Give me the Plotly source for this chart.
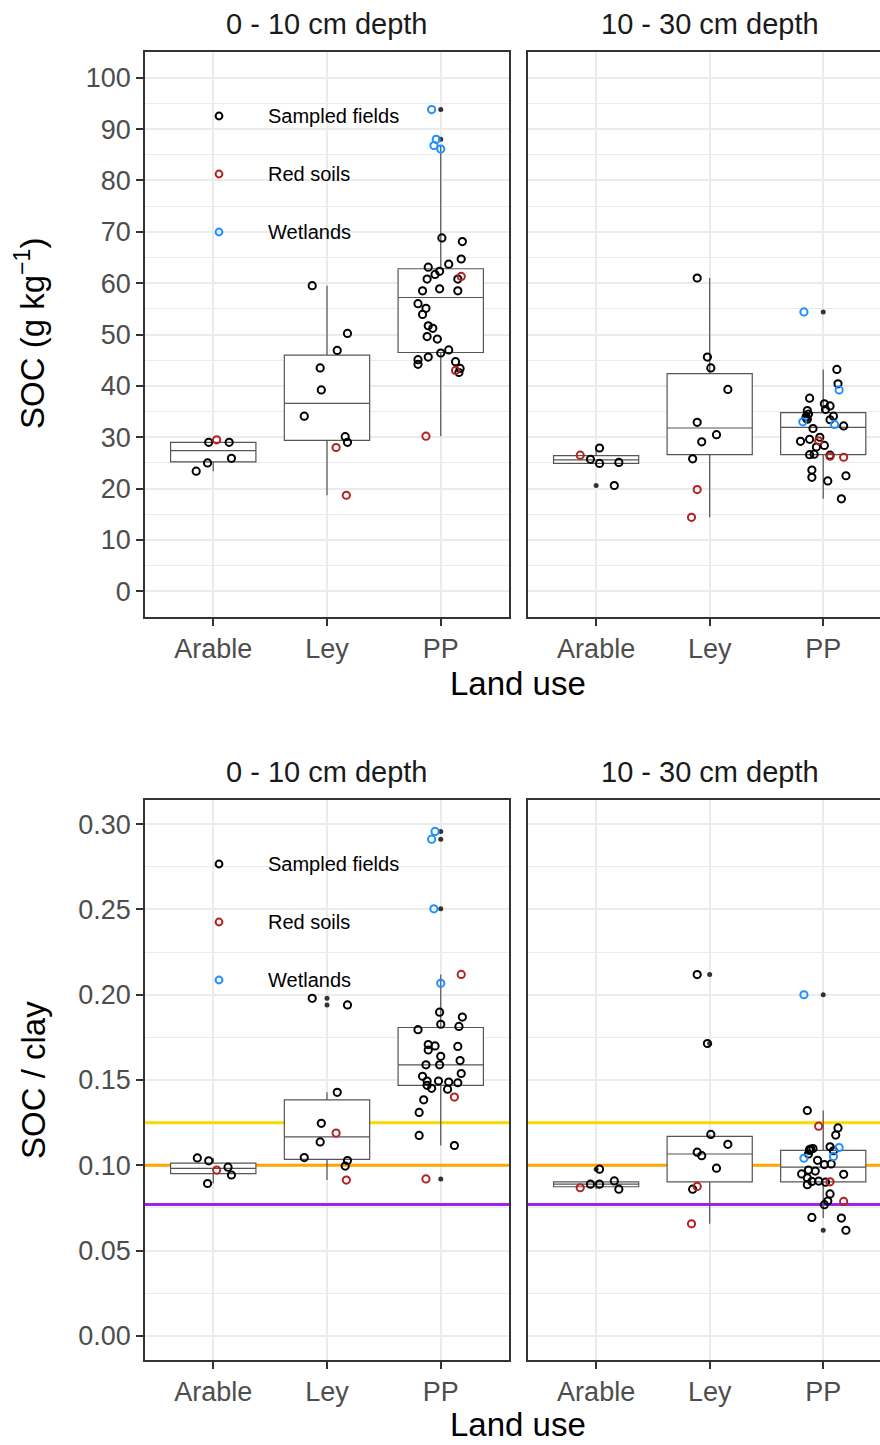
import plotly.graph_objects as go

W, H = 880, 1445
categories = ["Arable", "Ley", "PP"]
depth_titles = ["0 - 10 cm depth", "10 - 30 cm depth"]
legend_labels = ["Sampled fields", "Red soils", "Wetlands"]
src_colors = {"S": "#000000", "R": "#B22222", "W": "#1E90FF"}
ref_levels = [0.125, 0.10, 0.077]
ref_colors = ["#FFD700", "#FFA500", "#A020F0"]

# ---------------- SOC 0-10 cm ----------------
soc010_arable_val = [29.0, 29.5, 29.0, 25.9, 25.0, 23.4]
soc010_arable_dx = [-0.04, 0.03, 0.14, 0.16, -0.05, -0.15]
soc010_arable_src = ["S", "R", "S", "S", "S", "S"]
soc010_ley_val = [59.5, 50.2, 46.9, 43.5, 39.2, 34.1, 30.1, 29.0, 28.0, 18.7]
soc010_ley_dx = [-0.13, 0.18, 0.09, -0.06, -0.05, -0.20, 0.16, 0.18, 0.08, 0.17]
soc010_ley_src = ["S", "S", "S", "S", "S", "S", "S", "S", "R", "R"]
soc010_pp_val = [93.8, 88.0, 86.8, 86.1, 61.3, 43.0, 30.2,
                 68.8, 68.1, 64.7, 63.7, 63.1, 62.3, 61.7, 60.8, 60.8, 58.9, 58.5, 58.5, 56.0, 55.1,
                 53.9, 51.7, 51.2, 49.6, 49.1, 47.0, 46.4, 45.6, 45.1, 44.7, 44.2, 43.4, 42.6]
soc010_pp_dx = [-0.08, -0.04, -0.06, 0.00, 0.18, 0.13, -0.13,
                0.01, 0.19, 0.18, 0.07, -0.11, -0.01, -0.05, -0.12, 0.15, -0.01, -0.16, 0.15, -0.20, -0.13,
                -0.16, -0.11, -0.07, -0.12, -0.03, 0.07, 0.00, -0.11, -0.20, 0.13, -0.20, 0.17, 0.16]
soc010_pp_src = ["W", "W", "W", "W", "R", "R", "R"] + ["S"] * 27
soc010_q1 = [25.2, 29.4, 46.5]
soc010_median = [27.4, 36.6, 57.2]
soc010_q3 = [29.0, 46.0, 62.8]
soc010_lower = [23.4, 18.7, 30.2]
soc010_upper = [29.5, 59.5, 86.8]
soc010_out_cat = ["PP", "PP"]
soc010_out_val = [93.8, 88.0]

# ---------------- SOC 10-30 cm ----------------
soc1030_arable_val = [26.5, 27.9, 25.7, 24.9, 25.1, 20.6]
soc1030_arable_dx = [-0.14, 0.03, -0.05, 0.03, 0.20, 0.16]
soc1030_arable_src = ["R", "S", "S", "S", "S", "S"]
soc1030_ley_val = [61.0, 45.6, 43.5, 39.3, 32.9, 30.5, 29.1, 25.8, 19.8, 14.4]
soc1030_ley_dx = [-0.11, -0.02, 0.01, 0.16, -0.11, 0.06, -0.07, -0.15, -0.11, -0.16]
soc1030_ley_src = ["S", "S", "S", "S", "S", "S", "S", "S", "R", "R"]
soc1030_pp_val = [54.4, 39.2, 33.0, 32.5, 29.3, 26.3, 26.1,
                  43.2, 40.4, 37.6, 36.5, 36.1, 35.4, 35.2, 34.5, 34.1, 34.0, 33.8, 33.5, 33.4, 32.2,
                  31.7, 30.0, 29.6, 29.2, 28.4, 28.1, 26.7, 26.6, 26.5, 23.6, 22.5, 22.2, 21.5, 18.0]
soc1030_pp_dx = [-0.17, 0.14, -0.18, 0.10, -0.04, 0.06, 0.18,
                 0.12, 0.13, -0.12, 0.01, 0.06, 0.02, -0.14, -0.13, 0.09, -0.15, -0.15, -0.14, 0.06, 0.18,
                 -0.09, -0.03, -0.12, -0.20, 0.01, -0.06, -0.08, -0.12, 0.06, -0.10, 0.20, -0.10, 0.04, 0.16]
soc1030_pp_src = ["W", "W", "W", "W", "R", "R", "R"] + ["S"] * 28
soc1030_q1 = [24.9, 26.6, 26.6]
soc1030_median = [25.6, 31.8, 31.9]
soc1030_q3 = [26.4, 42.4, 34.8]
soc1030_lower = [24.9, 14.4, 18.0]
soc1030_upper = [27.9, 61.0, 43.2]
soc1030_out_cat = ["Arable", "PP"]
soc1030_out_val = [20.6, 54.4]

# ---------------- SOC/clay 0-10 cm ----------------
ratio010_arable_val = [0.1043, 0.1026, 0.0972, 0.0989, 0.0943, 0.0893]
ratio010_arable_dx = [-0.14, -0.04, 0.03, 0.13, 0.16, -0.05]
ratio010_arable_src = ["S", "S", "R", "S", "S", "S"]
ratio010_ley_val = [0.1979, 0.1940, 0.1428, 0.1246, 0.1189, 0.1137, 0.1045, 0.1028, 0.0995, 0.0913]
ratio010_ley_dx = [-0.13, 0.18, 0.09, -0.05, 0.08, -0.06, -0.20, 0.18, 0.16, 0.17]
ratio010_ley_src = ["S", "S", "S", "S", "R", "S", "S", "S", "S", "R"]
ratio010_pp_val = [0.2958, 0.2912, 0.2504, 0.2067, 0.2119, 0.1400, 0.0920,
                   0.1898, 0.1869, 0.1827, 0.1814, 0.1795, 0.1708, 0.1700, 0.1697, 0.1676, 0.1639,
                   0.1614, 0.1589, 0.1589, 0.1538, 0.1522, 0.1494, 0.1494, 0.1488, 0.1484, 0.1469,
                   0.1451, 0.1446, 0.1384, 0.1310, 0.1175, 0.1116]
ratio010_pp_dx = [-0.05, -0.08, -0.06, 0.00, 0.18, 0.12, -0.13,
                  -0.01, 0.19, 0.00, 0.16, -0.20, -0.11, -0.05, 0.15, -0.11, 0.00,
                  0.17, -0.13, -0.01, 0.18, -0.16, -0.12, -0.02, 0.07, 0.15, -0.12,
                  -0.08, 0.06, -0.15, -0.19, -0.19, 0.12]
ratio010_pp_src = ["W", "W", "W", "W", "R", "R", "R"] + ["S"] * 26
ratio010_q1 = [0.0951, 0.1035, 0.1469]
ratio010_median = [0.0982, 0.1166, 0.1589]
ratio010_q3 = [0.1012, 0.1384, 0.1808]
ratio010_lower = [0.0893, 0.0913, 0.1116]
ratio010_upper = [0.1043, 0.1428, 0.2119]
ratio010_out_cat = ["Ley", "Ley", "PP", "PP", "PP", "PP"]
ratio010_out_val = [0.1979, 0.1940, 0.2958, 0.2912, 0.2504, 0.0920]

# ---------------- SOC/clay 10-30 cm ----------------
ratio1030_arable_val = [0.0977, 0.0889, 0.0889, 0.0908, 0.0860, 0.0868]
ratio1030_arable_dx = [0.03, -0.05, 0.03, 0.16, 0.20, -0.14]
ratio1030_arable_src = ["S", "S", "S", "S", "S", "R"]
ratio1030_ley_val = [0.2118, 0.1714, 0.1181, 0.1123, 0.1077, 0.1056, 0.0983, 0.0876, 0.0860, 0.0657]
ratio1030_ley_dx = [-0.11, -0.02, 0.01, 0.16, -0.11, -0.07, 0.06, -0.11, -0.15, -0.16]
ratio1030_ley_src = ["S", "S", "S", "S", "S", "S", "S", "R", "S", "R"]
ratio1030_pp_val = [0.2000, 0.1104, 0.1041, 0.1052, 0.1229, 0.0903, 0.0788,
                    0.1321, 0.1219, 0.1177, 0.1108, 0.1098, 0.1095, 0.1092, 0.1087, 0.1085, 0.1066,
                    0.1029, 0.1008, 0.1004, 0.0972, 0.0966, 0.0949, 0.0947, 0.0926, 0.0907, 0.0905,
                    0.0901, 0.0886, 0.0832, 0.0790, 0.0769, 0.0694, 0.0690, 0.0619]
ratio1030_pp_dx = [-0.17, 0.14, -0.17, 0.09, -0.04, 0.06, 0.18,
                   -0.14, 0.13, 0.11, 0.06, -0.09, -0.11, -0.12, -0.12, 0.09, -0.13,
                   -0.05, 0.07, 0.01, -0.13, -0.07, -0.19, 0.18, -0.14, -0.04, -0.10,
                   0.02, -0.14, 0.06, 0.04, 0.01, -0.10, 0.16, 0.20]
ratio1030_pp_src = ["W", "W", "W", "W", "R", "R", "R"] + ["S"] * 28
ratio1030_q1 = [0.0874, 0.0903, 0.0903]
ratio1030_median = [0.0889, 0.1066, 0.0989]
ratio1030_q3 = [0.0903, 0.1169, 0.1087]
ratio1030_lower = [0.0860, 0.0657, 0.0690]
ratio1030_upper = [0.0908, 0.1181, 0.1321]
ratio1030_out_cat = ["Arable", "Ley", "Ley", "PP", "PP"]
ratio1030_out_val = [0.0977, 0.2118, 0.1714, 0.2000, 0.0619]

# ---------------- layout geometry (pixels) ----------------
FONT = "Liberation Sans, Arial, sans-serif"
left_px = (145, 509)
right_px = (528, 880)
top_px = (52, 617)
bot_px = (800, 1360)


def px_x(v):
    return v / W


def px_y(v):
    return 1 - v / H


panels = [
    dict(ax="", pts=[(soc010_arable_val, soc010_arable_dx, soc010_arable_src),
                     (soc010_ley_val, soc010_ley_dx, soc010_ley_src),
                     (soc010_pp_val, soc010_pp_dx, soc010_pp_src)],
         box=(soc010_q1, soc010_median, soc010_q3, soc010_lower, soc010_upper),
         out=(soc010_out_cat, soc010_out_val)),
    dict(ax="2", pts=[(soc1030_arable_val, soc1030_arable_dx, soc1030_arable_src),
                      (soc1030_ley_val, soc1030_ley_dx, soc1030_ley_src),
                      (soc1030_pp_val, soc1030_pp_dx, soc1030_pp_src)],
         box=(soc1030_q1, soc1030_median, soc1030_q3, soc1030_lower, soc1030_upper),
         out=(soc1030_out_cat, soc1030_out_val)),
    dict(ax="3", pts=[(ratio010_arable_val, ratio010_arable_dx, ratio010_arable_src),
                      (ratio010_ley_val, ratio010_ley_dx, ratio010_ley_src),
                      (ratio010_pp_val, ratio010_pp_dx, ratio010_pp_src)],
         box=(ratio010_q1, ratio010_median, ratio010_q3, ratio010_lower, ratio010_upper),
         out=(ratio010_out_cat, ratio010_out_val)),
    dict(ax="4", pts=[(ratio1030_arable_val, ratio1030_arable_dx, ratio1030_arable_src),
                      (ratio1030_ley_val, ratio1030_ley_dx, ratio1030_ley_src),
                      (ratio1030_pp_val, ratio1030_pp_dx, ratio1030_pp_src)],
         box=(ratio1030_q1, ratio1030_median, ratio1030_q3, ratio1030_lower, ratio1030_upper),
         out=(ratio1030_out_cat, ratio1030_out_val)),
]

fig = go.Figure()
cat_pos = {c: i + 1 for i, c in enumerate(categories)}

for p in panels:
    xa, ya = "x" + p["ax"], "y" + p["ax"]
    q1, med, q3, lo, hi = p["box"]
    fig.add_trace(go.Box(
        x=[cat_pos[c] for c in categories], q1=q1, median=med, q3=q3,
        lowerfence=lo, upperfence=hi, width=0.75, whiskerwidth=0,
        fillcolor="white", line=dict(color="#555555", width=1.2),
        boxpoints=False, showlegend=False, xaxis=xa, yaxis=ya, hoverinfo="skip"))
    oc, ov = p["out"]
    fig.add_trace(go.Scatter(
        x=[cat_pos[c] for c in oc], y=ov, mode="markers",
        marker=dict(color="#333333", size=5), showlegend=False,
        xaxis=xa, yaxis=ya, hoverinfo="skip"))
    for src in ["S", "R", "W"]:
        xs, ys = [], []
        for ci, (vals, dxs, srcs) in enumerate(p["pts"]):
            for v, d, s in zip(vals, dxs, srcs):
                if s == src:
                    xs.append(ci + 1 + d)
                    ys.append(v)
        fig.add_trace(go.Scatter(
            x=xs, y=ys, mode="markers",
            marker=dict(symbol="circle-open", size=7.2, color=src_colors[src],
                        line=dict(width=2.0, color=src_colors[src])),
            showlegend=False, xaxis=xa, yaxis=ya, hoverinfo="skip"))

tickfont = dict(family=FONT, size=27, color="#4D4D4D")
xcommon = dict(tickmode="array", tickvals=[1, 2, 3], ticktext=categories,
               ticks="outside", ticklen=7, tickwidth=1.5, tickcolor="#333333",
               showgrid=True, gridcolor="#EBEBEB", gridwidth=2, zeroline=False,
               showline=True, linecolor="#333333", linewidth=1.6, mirror=True,
               tickfont=tickfont, fixedrange=True)
ycommon = dict(showgrid=True, gridcolor="#EBEBEB", gridwidth=2, zeroline=False,
               showline=True, linecolor="#333333", linewidth=1.6, tickfont=tickfont)

dom_xl = [px_x(left_px[0]), px_x(left_px[1])]
dom_xr = [px_x(right_px[0]), 1.0]
dom_yt = [px_y(top_px[1]), px_y(top_px[0])]
dom_yb = [px_y(bot_px[1]), px_y(bot_px[0])]
soc_range = [-5, 105]
ratio_range = [-0.0142, 0.3142]

fig.update_layout(
    width=W, height=H, margin=dict(l=0, r=0, t=0, b=0),
    paper_bgcolor="white", plot_bgcolor="white",
    font=dict(family=FONT), showlegend=False,
    xaxis=dict(domain=dom_xl, range=[0.4, 3.6], anchor="y", **xcommon),
    xaxis2=dict(domain=dom_xr, range=[0.4, 3.5], anchor="y2", **xcommon),
    xaxis3=dict(domain=dom_xl, range=[0.4, 3.6], anchor="y3", **xcommon),
    xaxis4=dict(domain=dom_xr, range=[0.4, 3.5], anchor="y4", **xcommon),
    yaxis=dict(domain=dom_yt, range=soc_range, anchor="x", tickmode="linear", tick0=0, dtick=10,
               ticks="outside", ticklen=7, tickwidth=1.5, tickcolor="#333333", mirror=True,
               minor=dict(tickmode="linear", tick0=5, dtick=10, showgrid=True,
                          gridcolor="#EBEBEB", gridwidth=1.2), **ycommon),
    yaxis2=dict(domain=dom_yt, range=soc_range, anchor="x2", tickmode="linear", tick0=0, dtick=10,
                ticks="", showticklabels=False, mirror=False,
                minor=dict(tickmode="linear", tick0=5, dtick=10, showgrid=True,
                           gridcolor="#EBEBEB", gridwidth=1.2), **ycommon),
    yaxis3=dict(domain=dom_yb, range=ratio_range, anchor="x3", tickmode="linear", tick0=0, dtick=0.05,
                tickformat=".2f", ticks="outside", ticklen=7, tickwidth=1.5, tickcolor="#333333",
                mirror=True,
                minor=dict(tickmode="linear", tick0=0.025, dtick=0.05, showgrid=True,
                           gridcolor="#EBEBEB", gridwidth=1.2), **ycommon),
    yaxis4=dict(domain=dom_yb, range=ratio_range, anchor="x4", tickmode="linear", tick0=0, dtick=0.05,
                ticks="", showticklabels=False, mirror=False,
                minor=dict(tickmode="linear", tick0=0.025, dtick=0.05, showgrid=True,
                           gridcolor="#EBEBEB", gridwidth=1.2), **ycommon),
)

shapes = []
# reference lines in SOC/clay panels (beneath boxes and points)
for xa, ya in [("x3", "y3"), ("x4", "y4")]:
    for lvl, col in zip(ref_levels, ref_colors):
        shapes.append(dict(type="line", xref=xa, yref=ya, x0=0.4, x1=3.6, y0=lvl, y1=lvl,
                           line=dict(color=col, width=3), layer="between"))

annotations = []
# legends inside the left panels
for ptop in [top_px[0], bot_px[0]]:
    key_top = ptop + 35
    shapes.append(dict(type="rect", xref="paper", yref="paper",
                       x0=px_x(190), x1=px_x(248), y0=px_y(key_top + 174), y1=px_y(key_top),
                       fillcolor="white", line=dict(width=0), layer="between"))
    for i, (lab, src) in enumerate(zip(legend_labels, ["S", "R", "W"])):
        cy = key_top + 29 + 58 * i
        r = 3.4
        shapes.append(dict(type="circle", xref="paper", yref="paper",
                           x0=px_x(219 - r), x1=px_x(219 + r), y0=px_y(cy + r), y1=px_y(cy - r),
                           line=dict(color=src_colors[src], width=2.0), layer="above"))
        annotations.append(dict(text=lab, xref="paper", yref="paper", x=px_x(266), y=px_y(cy),
                                xanchor="left", yanchor="middle", showarrow=False,
                                font=dict(family=FONT, size=20, color="#000000")))

# strip titles
for ptop in [top_px[0], bot_px[0]]:
    for cx, t in zip([327, 709.5], depth_titles):
        annotations.append(dict(text=t, xref="paper", yref="paper", x=px_x(cx), y=px_y(ptop - 28),
                                xanchor="center", yanchor="middle", showarrow=False,
                                font=dict(family=FONT, size=29, color="#1A1A1A")))
# x axis titles
for yy in [684, 1424]:
    annotations.append(dict(text="Land use", xref="paper", yref="paper", x=px_x(518), y=px_y(yy),
                            xanchor="center", yanchor="middle", showarrow=False,
                            font=dict(family=FONT, size=33, color="#000000")))
# y axis titles
annotations.append(dict(text="SOC (g kg<sup>\u22121</sup>)", xref="paper", yref="paper",
                        x=px_x(30), y=px_y(334), xanchor="center", yanchor="middle",
                        textangle=-90, showarrow=False,
                        font=dict(family=FONT, size=33, color="#000000")))
annotations.append(dict(text="SOC / clay", xref="paper", yref="paper",
                        x=px_x(33), y=px_y(1080), xanchor="center", yanchor="middle",
                        textangle=-90, showarrow=False,
                        font=dict(family=FONT, size=33, color="#000000")))

fig.update_layout(shapes=shapes, annotations=annotations)
fig.write_html("out.html")
